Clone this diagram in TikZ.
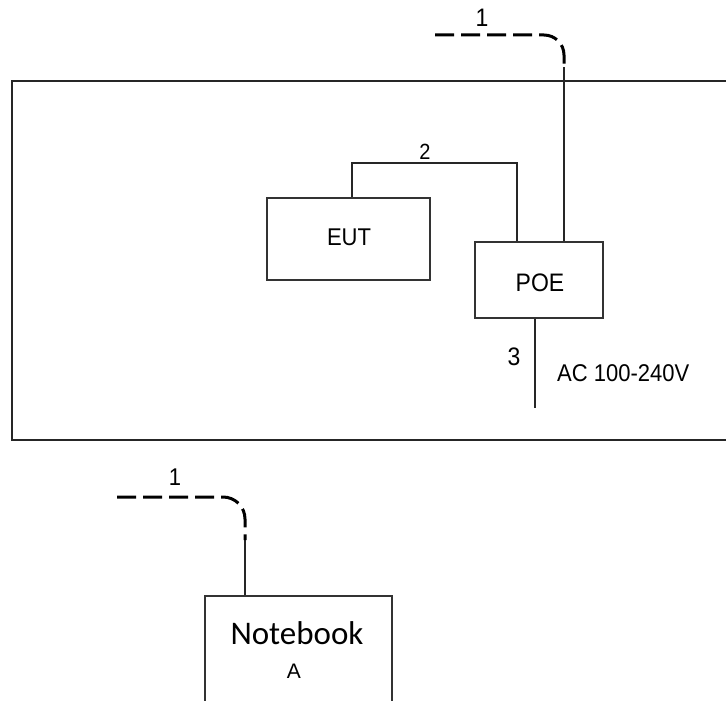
\documentclass[tikz,border=0pt]{standalone}
\usepackage{fontspec}
\setmainfont{Liberation Sans}
\newfontfamily\nbfont{Carlito}
\tikzset{
  wire/.style={line width=1.4pt, draw=black!85},
  cable/.style={line width=3pt, draw=black, dash pattern=on 19pt off 7pt},
  boxnode/.style={draw=black!80, line width=1.5pt, rectangle, inner sep=0pt},
  lbl/.style={font=\fontsize{22}{26}\selectfont, inner sep=0pt, yscale=1.1},
}
\begin{document}
\begin{tikzpicture}[x=1pt,y=-1pt]
\clip (0,0) rectangle (726,701);
\fill[white] (0,0) rectangle (726,701);
% enclosure
\draw[wire, line width=1.6pt] (760,81) -- (12,81) -- (12,440) -- (760,440);
% nodes
\node[boxnode, minimum width=163pt, minimum height=82pt] (eut) at (348.5,239) {};
\node[lbl] at (349,237) {EUT};
\node[boxnode, minimum width=128pt, minimum height=76pt] (poe) at (539,280) {};
\node[lbl, font=\fontsize{23}{27}\selectfont] at (540,283) {POE};
\node[boxnode, minimum width=187pt, minimum height=170pt] (nb) at (298.5,681) {};
\node[inner sep=0pt, font=\nbfont\fontsize{33}{38}\selectfont] at (297,633) {Notebook};
\node[inner sep=0pt, font=\fontsize{21}{25}\selectfont] at (294,671) {A};
% coordinates
\coordinate (c1) at (564,67);
\coordinate (d1) at (435,35);
\coordinate (w2a) at (352,163);
\coordinate (w2b) at (517,163);
\coordinate (c3) at (535,408);
\coordinate (c2) at (245,540);
\coordinate (d2) at (117,497);
% wire 1 (top)
\draw[wire] (poe.north -| c1) -- (c1);
\draw[cable, rounded corners=20pt] (d1) -| (c1);
\node[lbl, font=\fontsize{23}{27}\selectfont] at (482,18) {1};
% wire 2
\draw[wire] (eut.north -| w2a) -- (w2a) -- (w2b) -- (poe.north -| w2b);
\node[lbl, font=\fontsize{20}{24}\selectfont] at (425,152) {2};
% wire 3
\draw[wire] (poe.south -| c3) -- (c3);
\node[lbl, font=\fontsize{23}{27}\selectfont] at (514,357) {3};
\node[lbl, anchor=west] at (557,373) {AC 100-240V};
% wire 1 (bottom)
\draw[wire] (nb.north -| c2) -- (c2);
\draw[cable, rounded corners=22pt] (d2) -| (c2);
\node[lbl] at (175,477) {1};
\end{tikzpicture}
\end{document}
